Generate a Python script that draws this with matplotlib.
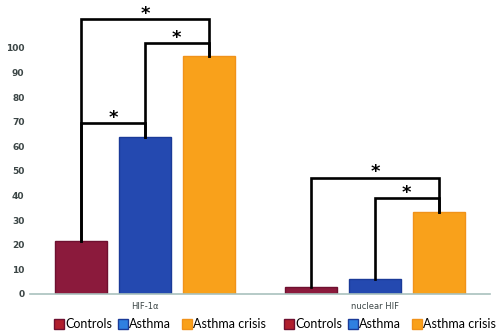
import numpy as np
import matplotlib.pyplot as plt
from matplotlib.transforms import blended_transform_factory

# =========================
# DATA
# =========================
groups = ["HIF-1\u03b1", "nuclear HIF"]
series = ["Controls", "Asthma", "Asthma crisis"]
controls = [21.5, 2.8]
asthma = [63.8, 6.1]
crisis = [96.7, 33.3]
yticks = [0, 10, 20, 30, 40, 50, 60, 70, 80, 90, 100]

# significance brackets: (group, bar_a, bar_b, height)
brackets = [
    (0, 0, 2, 111.8),
    (0, 1, 2, 102.0),
    (0, 0, 1, 69.5),
    (1, 0, 2, 47.2),
    (1, 1, 2, 39.0),
]

bar_colors = ["#8b1a3c", "#2449b0", "#f9a11b"]
edge_colors = ["#6e1030", "#1a3a98", "#f0921a"]
legend_colors = ["#b01f2e", "#2f80e0", "#f9a11b"]

# =========================
# PLOT
# =========================
fig = plt.figure(figsize=(5, 3.35), dpi=100)
ax = fig.add_axes([0.06, 0.1224, 0.92, 0.8776])

x = np.arange(len(groups))
w = 0.225
step = 0.277
values = [controls, asthma, crisis]
offsets = [-step, 0, step]

for i, vals in enumerate(values):
    ax.bar(x + offsets[i], vals, w, color=bar_colors[i],
           edgecolor=edge_colors[i], linewidth=1.0, zorder=2)

# brackets
for g, a, b, h in brackets:
    xa = x[g] + offsets[a]
    xb = x[g] + offsets[b]
    ya = values[a][g]
    yb = values[b][g]
    ax.plot([xa, xa, xb, xb], [ya, h, h, yb], color="black",
            lw=1.9, solid_joinstyle="miter", zorder=3)
    ax.text((xa + xb) / 2, h + 2.2, "*", ha="center", va="center",
            fontsize=13, fontweight="bold", color="black")

ax.set_xlim(-0.5, 1.5)
ax.set_ylim(0, 119.5)
ax.set_yticks(yticks)
ax.set_yticklabels([str(t) for t in yticks], fontsize=6.5,
                   color="#3c4646", fontweight="bold")
ax.tick_params(axis="y", length=0, pad=4)
ax.set_xticks(x)
ax.set_xticklabels(groups, fontsize=6, color="#3c4646")
ax.tick_params(axis="x", length=0, pad=6)

for s in ["top", "right", "left"]:
    ax.spines[s].set_visible(False)
ax.spines["bottom"].set_color("#a9c1bd")
ax.spines["bottom"].set_linewidth(1.2)

# legends below each group
trans = blended_transform_factory(ax.transData, ax.transAxes)
for g in x:
    for i, name in enumerate(series):
        xl = g + offsets[i] - w / 2
        ax.plot([xl + 0.017], [-0.102], marker="s", markersize=7.5,
                color=legend_colors[i], markeredgecolor=edge_colors[i],
                transform=trans, clip_on=False)
        ax.text(xl + 0.043, -0.102, name, fontsize=9, va="center",
                ha="left", transform=trans, color="black", family="Lato")

fig.savefig("out.png", dpi=100)
